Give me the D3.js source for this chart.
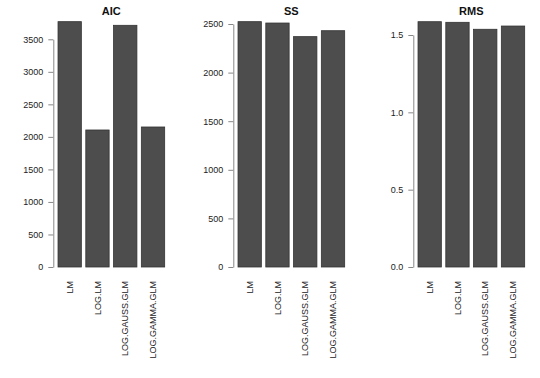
<!DOCTYPE html>
<html><head><meta charset="utf-8">
<script src="https://cdn.jsdelivr.net/npm/d3@7"></script>
<style>
body{margin:0;background:#fff;}
svg{display:block;font-family:"Liberation Sans",Arial,sans-serif;}
</style></head>
<body><svg id="c" width="540" height="378"></svg>
<script>
const categories = ["LM","LOG.LM","LOG.GAUSS.GLM","LOG.GAMMA.GLM"];
const aicValues = [3771, 2106, 3715, 2152];
const ssValues = [2524, 2510, 2370, 2431];
const rmsValues = [1.586, 1.582, 1.537, 1.558];
const aicTicks = [0,500,1000,1500,2000,2500,3000,3500];
const ssTicks = [0,500,1000,1500,2000,2500];
const rmsTicks = [0,0.5,1.0,1.5];
const titles = ["AIC","SS","RMS"];

const panels = [
  {title:titles[0], values:aicValues, ticks:aicTicks, fmt:d=>String(d), ypx:[267,39.3], yv:[0,3500]},
  {title:titles[1], values:ssValues, ticks:ssTicks, fmt:d=>String(d), ypx:[267,24], yv:[0,2500]},
  {title:titles[2], values:rmsValues, ticks:rmsTicks, fmt:d=>d.toFixed(1), ypx:[267,35], yv:[0,1.5]}
];

const svg = d3.select("#c");
panels.forEach((p,i)=>{
  const ox = i*180;
  const g = svg.append("g").attr("transform",`translate(${ox},0)`);
  const y = d3.scaleLinear().domain(p.yv).range(p.ypx);
  // band: bar width ~23.5, step ~27.8
  const x = d3.scaleBand().domain(categories).range([58-2.2, 164.7+2.2]).paddingInner(0.16).paddingOuter(0.08);
  const bw = x.bandwidth();
  g.selectAll("rect.bar").data(p.values).join("rect")
    .attr("x",(d,j)=>x(categories[j]))
    .attr("y",d=>y(d))
    .attr("width",bw)
    .attr("height",d=>y(0)-y(d))
    .attr("fill","#4d4d4d")
    .attr("stroke","#333")
    .attr("stroke-width",0.8);
  // axis
  const ax = g.append("g").attr("transform","translate(53.3,0)")
    .call(d3.axisLeft(y).tickValues(p.ticks).tickFormat(p.fmt).tickSize(5).tickSizeOuter(0));
  ax.select(".domain").attr("stroke","#888").attr("stroke-width",1);
  ax.selectAll(".tick line").attr("stroke","#888");
  ax.selectAll(".tick text").attr("font-size",9).attr("fill","#222").attr("x",-10)
    .attr("font-family","Liberation Sans, Arial, sans-serif");
  // title
  g.append("text").attr("x",(58+164.7)/2).attr("y",15).attr("text-anchor","middle")
    .attr("font-size",11).attr("font-weight","bold").attr("fill","#111").text(p.title);
  // x labels
  categories.forEach((c,j)=>{
    const cx = x(c)+bw/2;
    g.append("text").attr("transform",`translate(${cx+3.2},281) rotate(-90)`)
      .attr("text-anchor","end").attr("font-size",9).attr("fill","#222").text(c);
  });
});
</script></body></html>
